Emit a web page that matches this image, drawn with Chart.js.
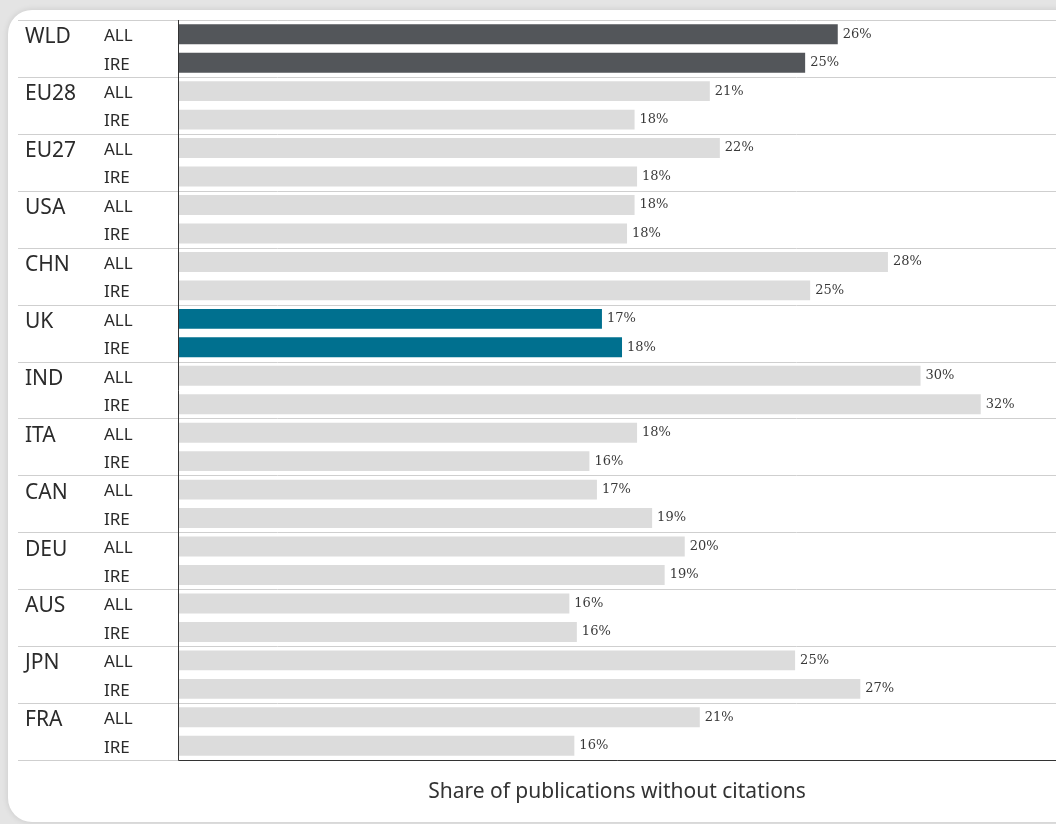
<!DOCTYPE html>
<html>
<head>
<meta charset="utf-8">
<script src="https://cdn.jsdelivr.net/npm/chart.js@4"></script>
<style>
  html, body { margin: 0; padding: 0; }
  body { width: 1056px; height: 824px; background: #e4e4e4; position: relative; overflow: hidden; }
  .tarjeta {
    position: absolute; left: 8px; top: 10px; width: 1100px; height: 812px;
    background: #fff; border-radius: 24px;
    box-shadow: 0 0 6px rgba(0,0,0,0.12);
  }
  #grafico { position: absolute; left: 0; top: 0; }
</style>
</head>
<body>
<div class="tarjeta"></div>
<canvas id="grafico" width="1056" height="824"></canvas>
<script>
// Datos
const paises = ["WLD", "EU28", "EU27", "USA", "CHN", "UK", "IND", "ITA", "CAN", "DEU", "AUS", "JPN", "FRA"];
const grupos = ["ALL", "IRE"];
const valoresAll = [26.3, 21.2, 21.6, 18.2, 28.3, 16.9, 29.6, 18.3, 16.7, 20.2, 15.6, 24.6, 20.8];
const valoresIre = [25.0, 18.2, 18.3, 17.9, 25.2, 17.7, 32.0, 16.4, 18.9, 19.4, 15.9, 27.2, 15.8];
const tituloEje = "Share of publications without citations";

const colorGris = "#dcdcdc";
const colorOscuro = "#53565a";
const colorAzul = "#00708f";

// Una barra por país y grupo (ALL / IRE)
const etiquetas = [];
const valores = [];
const colores = [];
paises.forEach((p, i) => {
  [valoresAll[i], valoresIre[i]].forEach((v, j) => {
    etiquetas.push(p + " " + grupos[j]);
    valores.push(v);
    colores.push(p === "WLD" ? colorOscuro : p === "UK" ? colorAzul : colorGris);
  });
});

const etiquetasPlugin = {
  id: "etiquetas",
  beforeDatasetsDraw(chart) {
    const { ctx, chartArea } = chart;
    ctx.save();
    // líneas separadoras entre países
    ctx.strokeStyle = "#cfcfcf";
    ctx.lineWidth = 1;
    for (let k = 0; k <= paises.length; k++) {
      const py = Math.round(chartArea.top + (chartArea.bottom - chartArea.top) * k / paises.length) + 0.5;
      ctx.beginPath();
      ctx.moveTo(18, py);
      ctx.lineTo(chartArea.right, py);
      ctx.stroke();
    }
    ctx.restore();
  },
  afterDatasetsDraw(chart) {
    const { ctx, chartArea, scales } = chart;
    const x = scales.x, y = scales.y;
    ctx.save();
    // ejes
    ctx.strokeStyle = "#333";
    ctx.lineWidth = 1;
    ctx.beginPath();
    ctx.moveTo(chartArea.left + 0.5, chartArea.top);
    ctx.lineTo(chartArea.left + 0.5, chartArea.bottom + 0.5);
    ctx.lineTo(chartArea.right, chartArea.bottom + 0.5);
    ctx.stroke();

    ctx.textBaseline = "middle";
    etiquetas.forEach((et, i) => {
      const py = y.getPixelForValue(i);
      const pais = paises[Math.floor(i / 2)];
      ctx.fillStyle = "#2b2b2b";
      if (i % 2 === 0) {
        ctx.font = "21px 'Noto Sans'";
        ctx.fillText(pais, 25, py + 3);
      }
      ctx.font = "17px 'Noto Sans'";
      ctx.fillText(grupos[i % 2], 104, py + 2);
      // valor al final de la barra
      ctx.fillStyle = "#3a3a3a";
      ctx.font = "13px 'DejaVu Serif'";
      ctx.fillText(Math.round(valores[i]) + "%", x.getPixelForValue(valores[i]) + 5, py);
    });

    ctx.fillStyle = "#333";
    ctx.font = "21px 'Noto Sans'";
    ctx.textAlign = "center";
    ctx.fillText(tituloEje, (chartArea.left + chartArea.right) / 2, 792);
    ctx.restore();
  }
};

new Chart(document.getElementById("grafico"), {
  type: "bar",
  data: {
    labels: etiquetas,
    datasets: [{
      data: valores,
      backgroundColor: colores,
      barPercentage: 0.7,
      categoryPercentage: 1
    }]
  },
  options: {
    indexAxis: "y",
    responsive: false,
    animation: false,
    layout: { padding: { left: 178, top: 20, right: 0, bottom: 64 } },
    plugins: { legend: { display: false }, tooltip: { enabled: false } },
    scales: {
      x: { display: false, min: 0, max: 35 },
      y: { display: false }
    }
  },
  plugins: [etiquetasPlugin]
});
</script>
</body>
</html>
